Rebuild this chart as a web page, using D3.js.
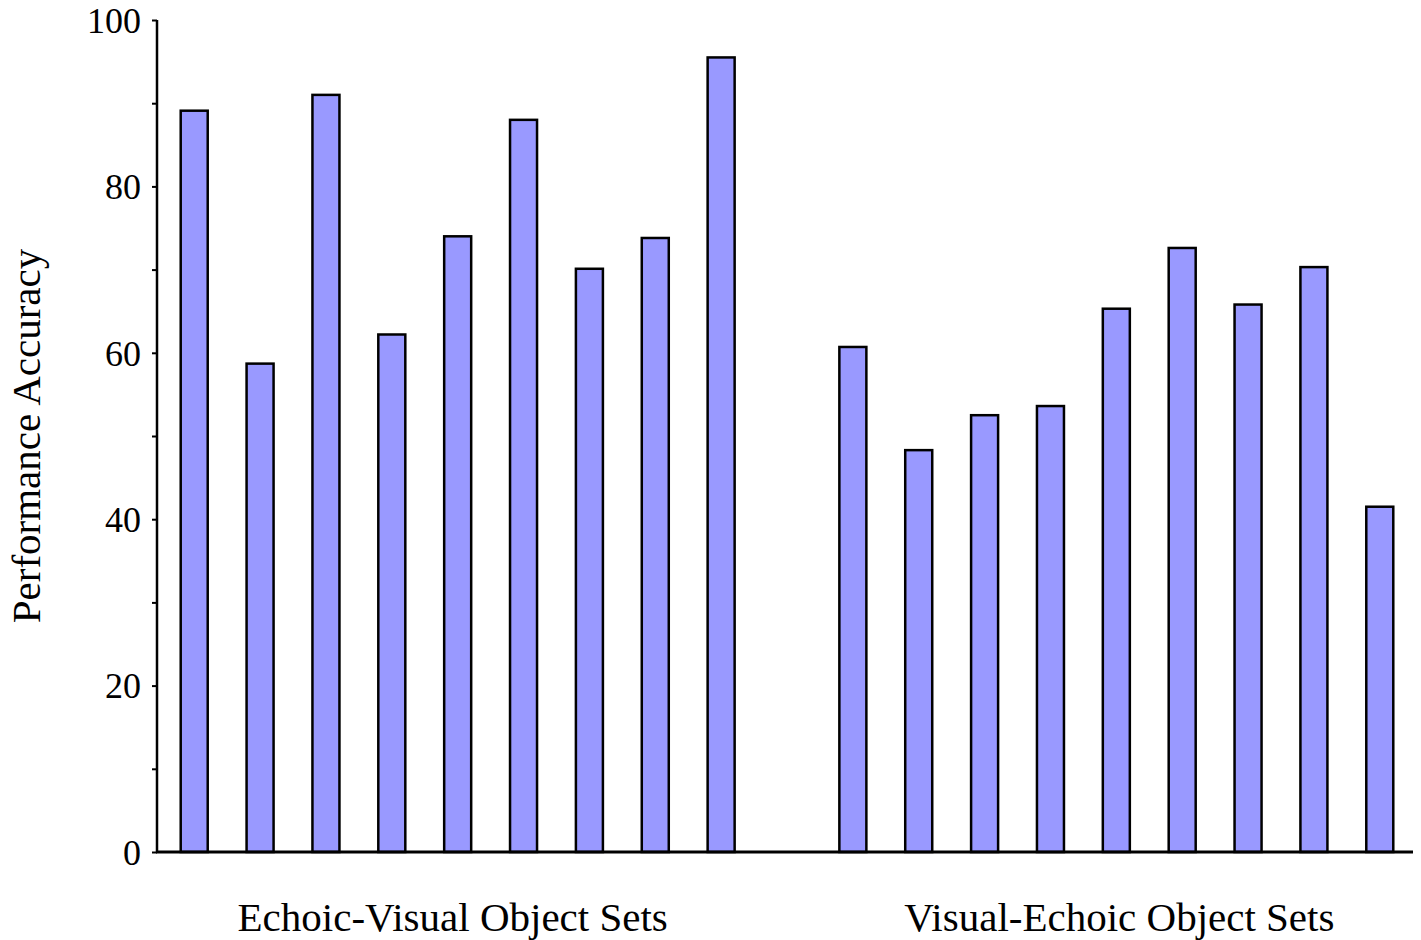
<!DOCTYPE html>
<html>
<head>
<meta charset="utf-8">
<script src="https://cdn.jsdelivr.net/npm/d3@7"></script>
<style>
  body { margin: 0; background: #ffffff; }
  text { font-family: "Liberation Serif", "Times New Roman", serif; fill: #000; }
</style>
</head>
<body>
<script>
var w = 1421
var h = 940

// values
var groups = ["Echoic-Visual Object Sets", "Visual-Echoic Object Sets"];
var echoicVisual = [89.1, 58.7, 91.0, 62.2, 74.0, 88.0, 70.1, 73.8, 95.5];
var visualEchoic = [60.7, 48.3, 52.5, 53.6, 65.3, 72.6, 65.8, 70.3, 41.5];
var yTicks = [0, 20, 40, 60, 80, 100];

var plotLeft = 157, plotRight = 1413, plotTop = 20, plotBottom = 852;

// one blank slot between the two sets
var slots = [];
echoicVisual.forEach(function(d, i) { slots.push({ key: "ev" + i, value: d, g: 0 }); });
slots.push({ key: "gap", value: null, g: -1 });
visualEchoic.forEach(function(d, i) { slots.push({ key: "ve" + i, value: d, g: 1 }); });

var x = d3.scaleBand()
    .domain(slots.map(function(d) { return d.key; }))
    .range([plotLeft, 1417])
    .paddingInner(0.59)
    .paddingOuter(0.36);

var y = d3.scaleLinear()
    .domain([0, 100])
    .range([plotBottom, plotTop]);

var svg = d3.select("body").append("svg")
    .attr("width", w)
    .attr("height", h);

// bars
svg.selectAll("rect.bar").data(slots.filter(function(d) { return d.value !== null; })).enter()
  .append("rect")
    .attr("class", "bar")
    .attr("x", function(d) { return x(d.key); })
    .attr("width", x.bandwidth())
    .attr("y", function(d) { return y(d.value); })
    .attr("height", function(d) { return y(0) - y(d.value); })
    .style("fill", "#9999ff")
    .style("stroke", "#000")
    .style("stroke-width", 2.5);

// y axis, minor ticks every 10
var yAxis = d3.axisLeft(y)
    .tickValues(d3.range(0, 101, 10))
    .tickSize(5)
    .tickPadding(11)
    .tickFormat(function(d) { return yTicks.indexOf(d) >= 0 ? d : ""; });

var gy = svg.append("g")
    .attr("transform", "translate(" + plotLeft + ",0)")
    .call(yAxis);
gy.select(".domain").remove();
gy.selectAll(".tick line").style("stroke", "#000").style("stroke-width", 2);
gy.selectAll(".tick text")
    .style("font-family", '"Liberation Serif", serif')
    .style("font-size", "36px")
    .attr("dy", "0.34em");

// axis lines
svg.append("line")
    .attr("x1", plotLeft).attr("x2", plotLeft)
    .attr("y1", plotTop).attr("y2", plotBottom + 1)
    .style("stroke", "#000").style("stroke-width", 2.5);

svg.append("line")
    .attr("x1", plotLeft - 1).attr("x2", plotRight)
    .attr("y1", plotBottom).attr("y2", plotBottom)
    .style("stroke", "#000").style("stroke-width", 3);

// group labels
var groupCenters = [0, 1].map(function(g) {
  var s = slots.filter(function(d) { return d.g === g; });
  return (x(s[0].key) + x(s[s.length - 1].key) + x.bandwidth()) / 2;
});
var labelShift = [-5, 3];

svg.selectAll("text.group").data(groups).enter()
  .append("text")
    .attr("class", "group")
    .attr("x", function(d, i) { return groupCenters[i] + labelShift[i]; })
    .attr("y", 931)
    .attr("text-anchor", "middle")
    .style("font-size", "41px")
    .text(function(d) { return d; });

// y title
svg.append("text")
    .attr("transform", "translate(40," + ((plotTop + plotBottom) / 2) + ") rotate(-90)")
    .attr("text-anchor", "middle")
    .style("font-size", "41px")
    .text("Performance Accuracy");
</script>
</body>
</html>
